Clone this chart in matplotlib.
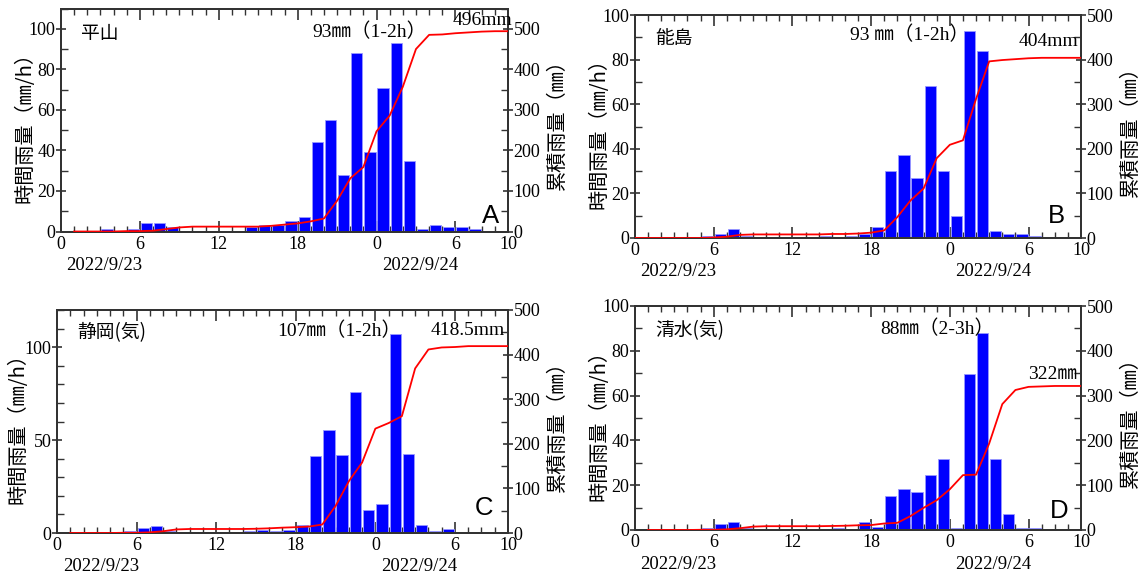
import numpy as np
import matplotlib
matplotlib.use("Agg")
import matplotlib.pyplot as plt
from matplotlib.ticker import MultipleLocator, FixedLocator, FixedFormatter
import matplotlib.transforms as mtransforms

# hour index: 0..33 (2022/9/23 00h .. 2022/9/24 09h), value = rainfall in that hour (mm)
hours = np.arange(34)

hirayama = [0, 0, 0, 1, 0, 1, 4, 4, 2, 0, 0, 0, 0, 0, 2, 3, 3, 5, 7, 44,
            55, 28, 88, 39, 71, 93, 35, 1, 3, 2, 2, 1, 0, 0]
noto = [0, 0, 0, 0, 0, 1, 2, 4, 1, 0, 0, 0, 0, 0, 1, 0, 1, 2, 5, 30,
        37, 27, 68, 30, 10, 93, 84, 3, 2, 2, 1, 0, 0, 0]
shizuoka = [0, 0, 0, 0.5, 0, 1, 2.5, 4, 1, 0, 0, 0, 0, 0.5, 1, 1.5, 1, 1.5, 4.5, 41.5,
            55.5, 42, 76, 12.5, 15.5, 107, 42.5, 4.5, 1, 2, 0, 0, 0, 0]
shimizu = [0, 0, 0, 0.5, 0, 1, 2.5, 3.5, 1, 0, 0, 0, 0, 0.5, 0.5, 1, 0.5, 3.5, 1.5, 15,
           18.5, 17, 24.5, 31.5, 1, 69.5, 88, 31.5, 7, 1, 1, 0, 0, 0]

station_names = ["平山", "能島", "静岡(気)", "清水(気)"]
panel_letters = ["A", "B", "C", "D"]
peak_labels = ["93㎜（1-2h）", "93 ㎜（1-2h）", "107㎜（1-2h）", "88㎜（2-3h）"]
total_labels = ["496mm", "404mm", "418.5mm", "322㎜"]
xtick_pos = [0, 6, 12, 18, 24, 30, 34]
xtick_lab = ["0", "6", "12", "18", "0", "6", "10"]
date_labels = ["2022/9/23", "2022/9/24"]

series = [hirayama, noto, shizuoka, shimizu]
left_max = [110, 100, 120, 100]
left_major = [20, 20, 50, 20]
right_max = [550, 500, 500, 500]
line_lag = [1, 0, 1, 1]   # cumulative curve start offset as drawn in the original

# axes positions in pixels (left, top, right, bottom) of 1148x576
boxes = [(61, 8.5, 508, 231.5), (635, 15, 1081, 238), (57, 310, 508, 533), (635, 306, 1081, 530)]
peak_pos = [(0.5615, 0.896), (0.482, 0.91), (0.488, 0.906), (0.549, 0.90)]
total_pos = [(0.875, 0.944), (0.861, 0.88), (0.829, 0.91), (0.881, 0.696)]
station_pos = [(0.045, 0.89), (0.045, 0.89), (0.045, 0.897), (0.045, 0.89)]
letter_pos = [(0.98, 0.07), (0.965, 0.10), (0.967, 0.112), (0.973, 0.085)]
ylabel_x = [-0.057, -0.057, -0.064, -0.057]

W, H = 1148, 576
fig = plt.figure(figsize=(W / 100, H / 100), dpi=100)

SERIF = ["Liberation Serif", "Noto Sans CJK JP"]
CJK = ["Noto Sans CJK JP", "DejaVu Sans"]
spine_c = "#333333"

for i in range(4):
    l, t, r, b = boxes[i]
    ax = fig.add_axes([l / W, (H - b) / H, (r - l) / W, (b - t) / H])
    ax2 = ax.twinx()
    vals = np.array(series[i], dtype=float)
    ax.bar(hours + 0.5, vals, width=0.86, color="#0000ff", edgecolor="#9999ff",
           linewidth=0.6, zorder=2)
    lag = line_lag[i]
    n = 34 - lag
    cum = np.concatenate([[0.0], np.cumsum(vals[:n])])
    xs = np.arange(lag, 35)
    ax2.plot(xs, cum, color="red", lw=1.3, zorder=3)

    ax.set_xlim(0, 34)
    ax.set_ylim(0, left_max[i])
    ax2.set_ylim(0, right_max[i])

    ax.xaxis.set_major_locator(FixedLocator(xtick_pos))
    ax.xaxis.set_major_formatter(FixedFormatter(xtick_lab))
    ax.xaxis.set_minor_locator(MultipleLocator(1))
    ax.yaxis.set_major_locator(MultipleLocator(left_major[i]))
    ax.yaxis.set_minor_locator(MultipleLocator(10))
    ax2.yaxis.set_major_locator(MultipleLocator(100))
    ax2.yaxis.set_minor_locator(MultipleLocator(50))

    ax.tick_params(axis="x", which="major", direction="in", length=8, width=1.2,
                   top=True, bottom=True, color=spine_c, pad=3)
    ax.tick_params(axis="x", which="minor", direction="in", length=4, width=1.0,
                   top=True, bottom=True, color=spine_c)
    ax.tick_params(axis="y", which="major", direction="inout", length=7, width=1.2,
                   color=spine_c, pad=0.5)
    ax.tick_params(axis="y", which="minor", direction="in", length=5, width=1.0,
                   color=spine_c)
    ax2.tick_params(axis="y", which="major", direction="inout", length=7, width=1.2,
                    color=spine_c, pad=0.5)
    ax2.tick_params(axis="y", which="minor", direction="in", length=5, width=1.0,
                    color=spine_c)
    for a in (ax, ax2):
        for sp in a.spines.values():
            sp.set_color(spine_c)
            sp.set_linewidth(1.4)
        for lab in a.get_xticklabels() + a.get_yticklabels():
            lab.set_fontfamily(SERIF)
            lab.set_fontsize(13)

    ax.set_ylabel("時間雨量（㎜/h）", family=CJK, fontsize=14.5)
    ax.yaxis.set_label_coords(ylabel_x[i], 0.49)
    ax2.set_ylabel("累積雨量（㎜）", family=CJK, fontsize=14.5, rotation=90)
    ax2.yaxis.set_label_coords(1.087, 0.5)

    trans = mtransforms.blended_transform_factory(ax.transData, ax.transAxes)
    ax.text(3.3, -0.152, date_labels[0], transform=trans, family=SERIF,
            fontsize=13.5, ha="center", va="center")
    ax.text(27.3, -0.152, date_labels[1], transform=trans, family=SERIF,
            fontsize=13.5, ha="center", va="center")

    ax2.text(station_pos[i][0], station_pos[i][1], station_names[i], transform=ax.transAxes,
             family=CJK, fontsize=13.5, ha="left", va="center")
    ax2.text(peak_pos[i][0], peak_pos[i][1], peak_labels[i], transform=ax.transAxes,
             family=SERIF, fontsize=14, ha="left", va="center")
    ax2.text(total_pos[i][0], total_pos[i][1], total_labels[i], transform=ax.transAxes,
             family=SERIF, fontsize=14, ha="left", va="center")
    ax2.text(letter_pos[i][0], letter_pos[i][1], panel_letters[i], transform=ax.transAxes,
             family=["Liberation Sans", "DejaVu Sans"], fontsize=18.5,
             ha="right", va="center")

fig.savefig("out.png", dpi=100)
